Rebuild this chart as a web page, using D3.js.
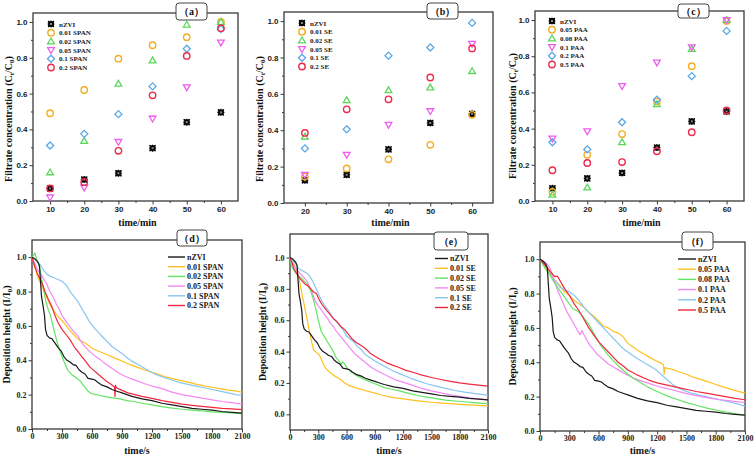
<!DOCTYPE html>
<html><head><meta charset="utf-8">
<script src="https://cdn.jsdelivr.net/npm/d3@7"></script>
<style>body{margin:0;background:#fff}svg{display:block}</style>
</head><body>
<svg id="chart" width="756" height="459"></svg>
<script>
// ---------------- DATA ----------------
// Top row: filtrate concentration (Ct/C0) vs time (min)
const timeAC = [10, 20, 30, 40, 50, 60];
const timeB = [20, 30, 40, 50, 60];
const namesA = ["nZVI", "0.01 SPAN", "0.02 SPAN", "0.05 SPAN", "0.1 SPAN", "0.2 SPAN"];
const namesB = ["nZVI", "0.01 SE", "0.02 SE", "0.05 SE", "0.1 SE", "0.2 SE"];
const namesC = ["nZVI", "0.05 PAA", "0.08 PAA", "0.1 PAA", "0.2 PAA", "0.5 PAA"];

const a_nZVI = [0.07, 0.12, 0.155, 0.295, 0.44, 0.495];
const a_001 = [0.49, 0.62, 0.795, 0.87, 0.915, 1.0];
const a_002 = [0.16, 0.335, 0.655, 0.785, 0.985, 1.0];
const a_005 = [0.02, 0.075, 0.33, 0.46, 0.635, 0.885];
const a_01 = [0.31, 0.375, 0.485, 0.64, 0.85, 0.96];
const a_02 = [0.07, 0.105, 0.28, 0.59, 0.81, 0.965];

const b_nZVI = [0.125, 0.155, 0.295, 0.44, 0.49];
const b_001 = [0.145, 0.19, 0.24, 0.32, 0.485];
const b_002 = [0.365, 0.565, 0.62, 0.635, 0.725];
const b_005 = [0.155, 0.265, 0.43, 0.505, 0.875];
const b_01 = [0.30, 0.405, 0.81, 0.855, 0.99];
const b_02 = [0.385, 0.515, 0.57, 0.69, 0.85];

const c_nZVI = [0.07, 0.125, 0.155, 0.295, 0.44, 0.495];
const c_005 = [0.05, 0.255, 0.37, 0.55, 0.745, 0.995];
const c_008 = [0.035, 0.075, 0.325, 0.535, 0.84, 1.0];
const c_01 = [0.345, 0.385, 0.635, 0.765, 0.85, 1.0];
const c_02 = [0.325, 0.285, 0.435, 0.56, 0.69, 0.94];
const c_05 = [0.17, 0.21, 0.215, 0.275, 0.38, 0.50];

// Bottom row: deposition height (I/I0) vs time (s), [t, value]
const namesD = ["nZVI", "0.01 SPAN", "0.02 SPAN", "0.05 SPAN", "0.1 SPAN", "0.2 SPAN"];
const namesE = ["nZVI", "0.01 SE", "0.02 SE", "0.05 SE", "0.1 SE", "0.2 SE"];
const namesF = ["nZVI", "0.05 PAA", "0.08 PAA", "0.1 PAA", "0.2 PAA", "0.5 PAA"];

const nZVI_curve = [[0,1.0],[30,0.99],[60,0.97],[75,0.95],[85,0.86],[95,0.77],[110,0.72],[125,0.66],[135,0.58],[150,0.545],[175,0.53],[200,0.525],[230,0.5],[260,0.475],[290,0.455],[320,0.42],[350,0.4],[380,0.39],[410,0.375],[440,0.37],[470,0.345],[500,0.33],[530,0.32],[560,0.295],[600,0.29],[630,0.285],[660,0.27],[700,0.255],[750,0.245],[800,0.23],[850,0.22],[900,0.21],[950,0.2],[1000,0.19],[1100,0.175],[1200,0.165],[1300,0.15],[1400,0.14],[1500,0.13],[1600,0.12],[1700,0.115],[1800,0.11],[1900,0.102],[2000,0.097],[2100,0.092]];

const d_001 = [[0,1.0],[25,0.95],[50,0.9],[75,0.86],[100,0.83],[130,0.79],[160,0.75],[200,0.7],[240,0.67],[270,0.65],[300,0.63],[330,0.61],[370,0.58],[400,0.56],[440,0.535],[470,0.52],[530,0.5],[570,0.485],[600,0.47],[640,0.46],[680,0.45],[740,0.435],[800,0.42],[860,0.405],[920,0.39],[980,0.375],[1050,0.36],[1120,0.345],[1200,0.33],[1280,0.315],[1350,0.3],[1430,0.29],[1500,0.28],[1580,0.27],[1650,0.26],[1730,0.25],[1800,0.243],[1880,0.235],[1950,0.228],[2030,0.222],[2100,0.215]];
const d_002 = [[0,1.0],[15,1.01],[30,1.025],[45,0.99],[60,0.97],[80,0.93],[100,0.86],[120,0.8],[140,0.74],[160,0.7],[185,0.66],[210,0.6],[240,0.53],[270,0.47],[300,0.42],[330,0.38],[360,0.34],[400,0.315],[440,0.3],[480,0.28],[520,0.25],[560,0.22],[600,0.205],[640,0.2],[680,0.195],[720,0.19],[760,0.185],[820,0.18],[880,0.175],[950,0.165],[1020,0.16],[1100,0.15],[1200,0.14],[1300,0.13],[1400,0.122],[1500,0.115],[1600,0.11],[1700,0.105],[1800,0.1],[1900,0.097],[2000,0.093],[2100,0.09]];
const d_005 = [[0,1.0],[30,0.96],[60,0.92],[90,0.9],[120,0.87],[150,0.84],[180,0.8],[210,0.77],[240,0.73],[270,0.7],[300,0.66],[330,0.635],[360,0.61],[400,0.58],[430,0.56],[460,0.54],[500,0.5],[530,0.48],[560,0.46],[600,0.44],[640,0.42],[680,0.405],[720,0.385],[770,0.365],[820,0.345],[870,0.325],[920,0.31],[980,0.295],[1050,0.28],[1120,0.265],[1200,0.25],[1300,0.235],[1400,0.215],[1500,0.2],[1600,0.19],[1700,0.18],[1800,0.17],[1900,0.16],[2000,0.153],[2100,0.145]];
const d_01 = [[0,1.0],[30,0.99],[60,0.97],[90,0.95],[120,0.92],[150,0.9],[180,0.89],[220,0.88],[260,0.87],[300,0.86],[340,0.84],[380,0.8],[420,0.77],[460,0.74],[500,0.7],[540,0.66],[580,0.62],[620,0.59],[660,0.565],[700,0.54],[750,0.51],[800,0.48],[850,0.46],[900,0.44],[950,0.415],[1000,0.395],[1060,0.375],[1120,0.355],[1180,0.335],[1250,0.315],[1320,0.3],[1400,0.285],[1480,0.27],[1560,0.26],[1640,0.25],[1720,0.24],[1800,0.23],[1880,0.22],[1960,0.21],[2040,0.2],[2100,0.195]];
const d_02 = [[0,1.0],[25,0.95],[50,0.91],[75,0.88],[100,0.85],[130,0.8],[160,0.76],[200,0.71],[230,0.66],[260,0.62],[300,0.58],[340,0.55],[380,0.52],[420,0.48],[460,0.45],[500,0.42],[540,0.39],[580,0.36],[620,0.34],[660,0.32],[700,0.3],[740,0.28],[790,0.26],[825,0.245],[830,0.19],[835,0.255],[845,0.24],[900,0.225],[960,0.21],[1030,0.2],[1100,0.19],[1200,0.178],[1300,0.165],[1400,0.155],[1500,0.145],[1600,0.138],[1700,0.132],[1800,0.126],[1900,0.12],[2000,0.117],[2100,0.113]];

const e_001 = [[0,1.0],[25,0.97],[50,0.95],[70,0.92],[90,0.88],[110,0.82],[130,0.76],[150,0.7],[170,0.64],[190,0.58],[210,0.52],[230,0.46],[250,0.41],[270,0.4],[290,0.39],[310,0.38],[340,0.34],[370,0.3],[400,0.28],[430,0.265],[460,0.25],[500,0.235],[540,0.22],[580,0.2],[620,0.185],[670,0.175],[720,0.165],[780,0.155],[840,0.145],[900,0.135],[960,0.125],[1030,0.115],[1100,0.107],[1200,0.098],[1300,0.09],[1400,0.083],[1500,0.077],[1600,0.072],[1700,0.068],[1800,0.064],[1900,0.06],[2000,0.057],[2100,0.054]];
const e_002 = [[0,1.0],[15,0.95],[30,0.93],[60,0.9],[90,0.88],[120,0.87],[150,0.85],[180,0.83],[210,0.8],[240,0.75],[270,0.68],[300,0.6],[330,0.53],[360,0.5],[400,0.46],[430,0.43],[460,0.4],[490,0.36],[520,0.34],[545,0.32],[560,0.335],[580,0.32],[610,0.29],[650,0.27],[700,0.25],[760,0.23],[820,0.215],[880,0.2],[940,0.185],[1000,0.17],[1080,0.16],[1160,0.15],[1250,0.135],[1350,0.12],[1450,0.11],[1550,0.1],[1650,0.09],[1750,0.085],[1850,0.08],[1950,0.075],[2050,0.07],[2100,0.068]];
const e_005 = [[0,1.0],[30,0.96],[60,0.93],[90,0.91],[120,0.89],[150,0.87],[180,0.85],[210,0.81],[240,0.77],[270,0.72],[300,0.69],[330,0.67],[360,0.64],[400,0.61],[430,0.58],[460,0.56],[490,0.53],[520,0.51],[560,0.48],[600,0.45],[640,0.42],[680,0.39],[720,0.37],[760,0.35],[800,0.33],[860,0.3],[920,0.28],[980,0.26],[1050,0.24],[1120,0.22],[1200,0.205],[1300,0.185],[1400,0.165],[1500,0.15],[1600,0.137],[1700,0.125],[1800,0.115],[1900,0.105],[2000,0.098],[2100,0.092]];
const e_01 = [[0,1.0],[30,0.98],[60,0.96],[90,0.93],[120,0.92],[150,0.91],[180,0.9],[210,0.88],[240,0.85],[270,0.81],[300,0.77],[330,0.73],[360,0.7],[400,0.67],[440,0.63],[480,0.6],[520,0.57],[560,0.54],[600,0.5],[640,0.48],[680,0.46],[720,0.43],[760,0.41],[800,0.38],[850,0.36],[900,0.34],[960,0.32],[1020,0.3],[1100,0.275],[1180,0.255],[1260,0.235],[1350,0.215],[1450,0.195],[1550,0.18],[1650,0.165],[1750,0.152],[1850,0.142],[1950,0.133],[2030,0.127],[2100,0.122]];
const e_02 = [[0,1.0],[20,0.97],[40,0.93],[70,0.9],[100,0.87],[130,0.85],[160,0.83],[190,0.82],[220,0.8],[250,0.78],[280,0.77],[310,0.73],[340,0.7],[380,0.67],[420,0.64],[460,0.61],[500,0.59],[540,0.56],[580,0.54],[620,0.51],[660,0.48],[700,0.46],[750,0.44],[800,0.42],[850,0.39],[900,0.37],[960,0.35],[1020,0.33],[1080,0.315],[1150,0.3],[1230,0.28],[1320,0.265],[1400,0.25],[1500,0.235],[1600,0.222],[1700,0.21],[1800,0.2],[1900,0.193],[2000,0.186],[2100,0.18]];

const f_005 = [[0,1.0],[30,0.98],[60,0.95],[100,0.92],[150,0.88],[200,0.85],[250,0.81],[300,0.79],[350,0.76],[400,0.74],[450,0.72],[500,0.69],[550,0.67],[600,0.64],[650,0.61],[700,0.6],[750,0.58],[800,0.57],[850,0.55],[900,0.51],[950,0.49],[1000,0.47],[1060,0.45],[1120,0.43],[1180,0.41],[1240,0.395],[1265,0.385],[1272,0.33],[1280,0.37],[1300,0.365],[1350,0.36],[1420,0.345],[1500,0.33],[1560,0.315],[1620,0.305],[1700,0.29],[1780,0.275],[1860,0.26],[1940,0.245],[2020,0.232],[2100,0.22]];
const f_008 = [[0,1.0],[30,0.97],[60,0.94],[100,0.91],[150,0.86],[200,0.82],[250,0.78],[300,0.74],[340,0.71],[380,0.7],[420,0.68],[460,0.65],[500,0.62],[540,0.58],[580,0.54],[620,0.5],[660,0.47],[700,0.44],[750,0.41],[800,0.38],[850,0.355],[900,0.33],[960,0.305],[1020,0.285],[1090,0.26],[1160,0.24],[1240,0.22],[1320,0.2],[1400,0.185],[1500,0.165],[1600,0.15],[1700,0.135],[1800,0.122],[1900,0.11],[2000,0.1],[2100,0.092]];
const f_01 = [[0,1.0],[30,0.99],[60,0.98],[90,0.96],[120,0.92],[150,0.87],[180,0.82],[210,0.78],[240,0.74],[270,0.7],[300,0.67],[330,0.64],[360,0.61],[390,0.58],[410,0.56],[430,0.585],[450,0.56],[480,0.53],[510,0.5],[540,0.48],[580,0.45],[620,0.43],[660,0.41],[700,0.39],[760,0.37],[820,0.35],[880,0.33],[950,0.31],[1020,0.295],[1100,0.28],[1180,0.265],[1260,0.252],[1350,0.24],[1450,0.225],[1550,0.212],[1650,0.2],[1750,0.19],[1850,0.182],[1950,0.175],[2030,0.17],[2100,0.166]];
const f_02 = [[0,1.0],[30,0.98],[60,0.96],[100,0.93],[150,0.88],[200,0.84],[250,0.82],[300,0.81],[350,0.79],[400,0.76],[450,0.72],[500,0.69],[550,0.66],[600,0.63],[650,0.6],[700,0.57],[750,0.54],[800,0.51],[850,0.48],[900,0.46],[950,0.44],[1000,0.42],[1060,0.4],[1120,0.38],[1180,0.36],[1240,0.33],[1300,0.3],[1360,0.27],[1420,0.25],[1480,0.235],[1550,0.22],[1620,0.21],[1700,0.2],[1780,0.19],[1860,0.18],[1940,0.17],[2020,0.158],[2100,0.145]];
const f_05 = [[0,1.0],[30,0.98],[60,0.96],[100,0.93],[150,0.9],[180,0.9],[210,0.87],[250,0.83],[300,0.79],[350,0.74],[400,0.7],[450,0.65],[500,0.6],[550,0.56],[600,0.52],[650,0.49],[700,0.46],[750,0.43],[800,0.4],[850,0.38],[900,0.355],[950,0.34],[1000,0.325],[1060,0.31],[1120,0.295],[1200,0.28],[1280,0.27],[1360,0.26],[1440,0.25],[1520,0.24],[1600,0.23],[1700,0.22],[1800,0.21],[1900,0.2],[2000,0.19],[2100,0.182]];

// Tick values
const ticksMin = [10, 20, 30, 40, 50, 60];
const ticksMinB = [20, 30, 40, 50, 60];
const ticksSec = [0, 300, 600, 900, 1200, 1500, 1800, 2100];
const ticksY = [0, 0.2, 0.4, 0.6, 0.8, 1.0];

// ---------------- STYLE ----------------
const ptColors = ["#111", "#F4AE22", "#5CD65C", "#EE5CEE", "#5AA8E6", "#EC2A4C"];
const lnColors = ["#1a1a1a", "#FFC020", "#62E462", "#F488F4", "#88C6F2", "#F0283E"];
const markers = ["star", "circle", "tri", "tridown", "diamond", "circle"];
const serif = "'Liberation Serif','Times New Roman',serif";
const sans = "'Liberation Sans',Arial,sans-serif";
const frameColor = "#3a3a3a";

const svg = d3.select("#chart");

function markerPath(type, r) {
  switch (type) {
    case "circle": return null;
    case "tri": return `M0,${-r*1.05}L${r*1.05},${r*0.75}L${-r*1.05},${r*0.75}Z`;
    case "tridown": return `M0,${r*1.05}L${r*1.05},${-r*0.75}L${-r*1.05},${-r*0.75}Z`;
    case "diamond": return `M0,${-r*1.1}L${r*1.1},0L0,${r*1.1}L${-r*1.1},0Z`;
  }
}
function drawMarker(g, type, color, cx, cy) {
  const r = 3.2;
  if (type === "star") {
    g.append("rect").attr("x", cx - 3).attr("y", cy - 3).attr("width", 6).attr("height", 6).attr("fill", "#222");
    g.append("path").attr("d", `M${cx-3},${cy-3}L${cx+3},${cy+3}M${cx+3},${cy-3}L${cx-3},${cy+3}M${cx},${cy-3.5}L${cx},${cy+3.5}M${cx-3.5},${cy}L${cx+3.5},${cy}`)
      .attr("stroke", "#000").attr("stroke-width", 1.1);
    g.append("rect").attr("x", cx - 1).attr("y", cy - 1).attr("width", 2).attr("height", 2).attr("fill", "#888");
  } else if (type === "circle") {
    g.append("circle").attr("cx", cx).attr("cy", cy).attr("r", r).attr("fill", "none").attr("stroke", color).attr("stroke-width", 1.4);
  } else {
    g.append("path").attr("d", markerPath(type, r)).attr("transform", `translate(${cx},${cy})`).attr("fill", "none").attr("stroke", color).attr("stroke-width", 1.3);
  }
}

function labelBox(x, y, w, h, letter) {
  svg.append("rect").attr("x", x).attr("y", y).attr("width", w).attr("height", h).attr("rx", 3)
    .attr("fill", "#fff").attr("stroke", "#444").attr("stroke-width", 1);
  svg.append("text").attr("x", x + w / 2).attr("y", y + h / 2 + 3.5).attr("text-anchor", "middle")
    .attr("font-family", serif).attr("font-weight", "bold").attr("font-size", 10).attr("fill", "#111")
    .text("（" + letter + "）");
}

function yTitle(x, cy, main, sub1, mid, sub2, end) {
  const t = svg.append("text").attr("transform", `translate(${x},${cy}) rotate(-90)`).attr("text-anchor", "middle")
    .attr("font-family", serif).attr("font-weight", "bold").attr("font-size", 10).attr("fill", "#111");
  t.append("tspan").text(main);
  t.append("tspan").attr("font-size", 7).attr("dy", 2).text(sub1);
  t.append("tspan").attr("dy", -2).text(mid);
  t.append("tspan").attr("font-size", 7).attr("dy", 2).text(sub2);
  t.append("tspan").attr("dy", -2).text(end);
}

function axes(x, y, xMajor, xMinor, yMinor, tickFont, pad) {
  const g = svg.append("g");
  const bottom = y.range()[0];
  const left = x.range()[0];
  g.append("g").attr("transform", `translate(0,${bottom})`)
    .call(d3.axisBottom(x).tickValues(xMinor).tickSize(2).tickFormat(""))
    .call(s => s.select(".domain").remove());
  g.append("g").attr("transform", `translate(${left},0)`)
    .call(d3.axisLeft(y).tickValues(yMinor).tickSize(2).tickFormat(""))
    .call(s => s.select(".domain").remove());
  const xa = g.append("g").attr("transform", `translate(0,${bottom})`)
    .call(d3.axisBottom(x).tickValues(xMajor).tickSize(3.5).tickPadding(pad).tickFormat(d3.format("d")))
    .call(s => s.select(".domain").remove());
  const ya = g.append("g").attr("transform", `translate(${left},0)`)
    .call(d3.axisLeft(y).tickValues(ticksY).tickSize(3.5).tickPadding(2).tickFormat(d3.format(".1f")))
    .call(s => s.select(".domain").remove());
  g.selectAll(".tick line").attr("stroke", frameColor).attr("stroke-width", 1);
  [xa, ya].forEach(a => a.selectAll("text").attr("font-family", tickFont).attr("font-weight", "bold").attr("font-size", 8).attr("fill", "#222"));
  svg.append("rect").attr("x", left).attr("y", y.range()[1]).attr("width", x.range()[1] - left).attr("height", bottom - y.range()[1])
    .attr("fill", "none").attr("stroke", frameColor).attr("stroke-width", 1.3);
}

// ---------------- TOP PANELS ----------------
const topPanels = [
  { x0: 33, x1: 238, y0: 13, y1: 201, xd: [5, 65], t: timeAC, ticks: ticksMin, names: namesA, series: [a_nZVI, a_001, a_002, a_005, a_01, a_02], lx: 51, ly: 24, box: [176, 3, 31, 17, "a"], ytx: 9, yty: 119 },
  { x0: 284, x1: 493, y0: 12, y1: 203, xd: [15, 65], t: timeB, ticks: ticksMinB, names: namesB, series: [b_nZVI, b_001, b_002, b_005, b_01, b_02], lx: 302, ly: 23, box: [427, 3, 31, 16, "b"], ytx: 260, yty: 119 },
  { x0: 535, x1: 744, y0: 11, y1: 201, xd: [5, 65], t: timeAC, ticks: ticksMin, names: namesC, series: [c_nZVI, c_005, c_008, c_01, c_02, c_05], lx: 552, ly: 21, box: [678, 4, 31, 14, "c"], ytx: 513, yty: 116 }
];

topPanels.forEach(p => {
  const x = d3.scaleLinear().domain(p.xd).range([p.x0, p.x1]);
  const y = d3.scaleLinear().domain([0, 1.05]).range([p.y1, p.y0]);
  const minorX = d3.range(p.xd[0], p.xd[1] + 0.1, 5).filter(v => !p.ticks.includes(v) && v > p.xd[0] && v < p.xd[1]);
  const minorY = [0.1, 0.3, 0.5, 0.7, 0.9];
  axes(x, y, p.ticks, minorX, minorY, sans, 2);
  const g = svg.append("g");
  p.series.forEach((s, i) => {
    s.forEach((v, j) => drawMarker(g, markers[i], ptColors[i], x(p.t[j]), y(v)));
  });
  p.names.forEach((n, i) => {
    const yy = p.ly + i * 8.7;
    drawMarker(g, markers[i], ptColors[i], p.lx, yy);
    g.append("text").attr("x", p.lx + 8).attr("y", yy + 2.6).attr("font-family", serif).attr("font-weight", "bold")
      .attr("font-size", 7).attr("fill", "#222").text(n);
  });
  svg.append("text").attr("x", (p.x0 + p.x1) / 2 + 2).attr("y", 226).attr("text-anchor", "middle")
    .attr("font-family", serif).attr("font-weight", "bold").attr("font-size", 10).attr("fill", "#111").text("time/min");
  yTitle(p.ytx + 3, p.yty, "Filtrate concentration (C", "t", "/C", "0", ")");
  labelBox(...p.box);
});

// ---------------- BOTTOM PANELS ----------------
const botPanels = [
  { x0: 32, x1: 242, y0: 240, y1: 429, yd: [0, 1.1], names: namesD, series: [nZVI_curve, d_001, d_002, d_005, d_01, d_02], lx: 168, ly: 257, lsp: 9.7, box: [177, 230, 30, 16, "d"], ytx: 7, lw: 17 },
  { x0: 290, x1: 488, y0: 234, y1: 430, yd: [-0.1, 1.15], names: namesE, series: [nZVI_curve, e_001, e_002, e_005, e_01, e_02], lx: 435, ly: 258.5, lsp: 9.8, box: [434, 232, 34, 18, "e"], ytx: 263, lw: 13 },
  { x0: 540, x1: 745, y0: 242, y1: 431, yd: [0, 1.1], names: namesF, series: [nZVI_curve, f_005, f_008, f_01, f_02, f_05], lx: 678, ly: 259, lsp: 10.2, box: [682, 232, 31, 18, "f"], ytx: 513, lw: 18 }
];

botPanels.forEach(p => {
  const x = d3.scaleLinear().domain([0, 2100]).range([p.x0, p.x1]);
  const y = d3.scaleLinear().domain(p.yd).range([p.y1, p.y0]);
  const minorX = [150, 450, 750, 1050, 1350, 1650, 1950];
  const minorY = [0.1, 0.3, 0.5, 0.7, 0.9];
  axes(x, y, ticksSec, minorX, minorY, serif, 1);
  const line = d3.line().x(d => x(d[0])).y(d => y(d[1]));
  const g = svg.append("g");
  [1, 4, 3, 2, 5, 0].forEach(i => {
    g.append("path").datum(p.series[i]).attr("d", line).attr("fill", "none")
      .attr("stroke", lnColors[i]).attr("stroke-width", 1.2).attr("stroke-linejoin", "round");
  });
  p.names.forEach((n, i) => {
    const yy = p.ly + i * p.lsp;
    g.append("line").attr("x1", p.lx).attr("x2", p.lx + p.lw).attr("y1", yy).attr("y2", yy)
      .attr("stroke", lnColors[i]).attr("stroke-width", 1.4);
    g.append("text").attr("x", p.lx + p.lw + 2).attr("y", yy + 2.8).attr("font-family", serif).attr("font-weight", "bold")
      .attr("font-size", 8).attr("fill", "#222").text(n);
  });
  svg.append("text").attr("x", (p.x0 + p.x1) / 2).attr("y", 454).attr("text-anchor", "middle")
    .attr("font-family", serif).attr("font-weight", "bold").attr("font-size", 10).attr("fill", "#111").text("time/s");
  yTitle(p.ytx + 3, (p.y0 + p.y1) / 2, "Deposition height (I/I", "0", ")", "", "");
  labelBox(...p.box);
});
</script>
</body></html>
